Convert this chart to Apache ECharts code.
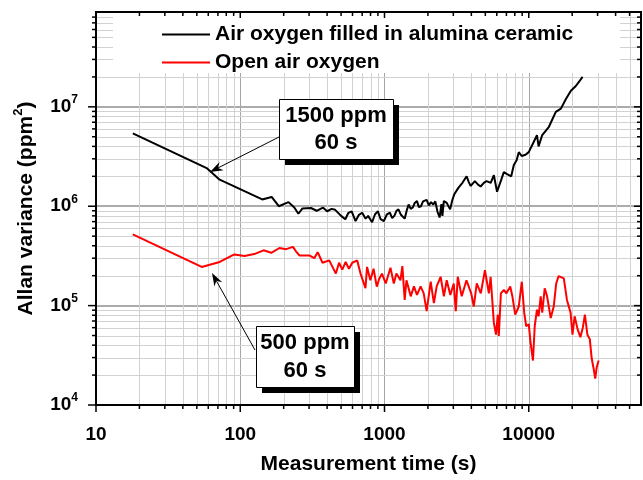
<!DOCTYPE html>
<html>
<head>
<meta charset="utf-8">
<script src="https://cdn.jsdelivr.net/npm/echarts@6/dist/echarts.min.js"></script>
<style>
  html, body { margin: 0; padding: 0; background: #fff; }
  #chart { width: 643px; height: 480px; }
</style>
</head>
<body>
<div id="chart"></div>
<script>
const ceramicTime = [18, 59, 72, 142, 165, 185, 216, 237, 253, 270, 309, 339, 374, 400, 430, 455, 500, 535, 560, 592,
  630, 665, 700, 740, 770, 820, 860, 900, 940, 990, 1040, 1090, 1130, 1170, 1210, 1250, 1300, 1380, 1430, 1470,
  1520, 1570, 1620, 1680, 1730, 1790, 1850, 1900, 1960, 2030, 2100, 2180, 2250, 2330, 2410, 2480, 2520, 2580, 2700, 2850,
  2950, 3040, 3250, 3470, 3710, 3840, 3960, 4230, 4450, 4640, 4880, 5100, 5450, 5730, 6030, 6450, 6720, 7080, 7560, 7880,
  8240, 8530, 8930, 9500, 10000, 10800, 11400, 11700, 12400, 13800, 15400, 16700, 18100, 19600, 21200, 22400, 23600];
const ceramicVar = [5.4e6, 2.4e6, 1.85e6, 1.17e6, 1.24e6, 1.0e6, 1.1e6, 9.7e5, 8.4e5, 9.5e5, 9.6e5, 9.0e5, 9.7e5, 8.9e5, 9.4e5, 9.2e5, 8.0e5, 7.4e5, 8.5e5, 8.9e5,
  7.1e5, 8.2e5, 8.6e5, 7.5e5, 8.0e5, 6.9e5, 8.3e5, 8.9e5, 7.4e5, 7.1e5, 8.3e5, 8.6e5, 7.6e5, 8.0e5, 9.0e5, 9.3e5, 8.2e5, 7.5e5, 9.2e5, 1.04e6,
  9.4e5, 9.7e5, 1.08e6, 1.13e6, 9.8e5, 1.0e6, 1.12e6, 1.07e6, 1.16e6, 1.02e6, 1.1e6, 1.04e6, 1.12e6, 8.8e5, 7.7e5, 1.05e6, 8.0e5, 1.13e6, 1.08e6, 9.3e5,
  1.15e6, 1.31e6, 1.53e6, 1.72e6, 2.0e6, 1.75e6, 1.6e6, 1.79e6, 1.65e6, 1.58e6, 1.72e6, 1.79e6, 1.72e6, 2.05e6, 1.4e6, 1.85e6, 2.2e6, 2.1e6, 2.0e6, 2.6e6,
  2.9e6, 3.5e6, 3.2e6, 3.3e6, 3.5e6, 4.4e6, 5.2e6, 4.0e6, 5.2e6, 6.3e6, 8.9e6, 9.6e6, 1.2e7, 1.45e7, 1.62e7, 1.8e7, 2.0e7];

const openTime = [18, 54, 72, 91, 107, 125, 145, 164, 187, 208, 232, 244, 257, 301, 326, 344, 372, 414, 460, 484,
  510, 538, 567, 598, 647, 682, 738, 757, 798, 840, 884, 918, 960, 1020, 1100, 1160, 1210, 1290, 1330, 1380,
  1420, 1520, 1600, 1680, 1780, 1870, 1960, 2090, 2200, 2300, 2450, 2580, 2700, 2860, 3020, 3120, 3220, 3430, 3700, 3990,
  4160, 4360, 4650, 4970, 5290, 5440, 5730, 5930, 6100, 6200, 6410, 6720, 7000, 7440, 7700, 8060, 8530, 8950, 9300, 9600,
  10000, 10300, 10700, 11000, 11400, 11700, 12100, 12400, 12900, 13400, 14200, 14900, 15500, 16100, 17500, 18400, 19500, 20100, 20800, 21800,
  22800, 23700, 24500, 25500, 26500, 27300, 28200, 28900, 29600, 30500];
const openVar = [5.2e5, 2.45e5, 2.75e5, 3.27e5, 3.15e5, 3.3e5, 3.6e5, 3.4e5, 3.8e5, 3.7e5, 3.9e5, 3.5e5, 3.2e5, 3.2e5, 3.0e5, 3.45e5, 2.7e5, 2.85e5, 2.1e5, 2.7e5,
  2.3e5, 2.75e5, 2.35e5, 2.7e5, 2.85e5, 2.1e5, 1.5e5, 2.45e5, 1.8e5, 2.35e5, 1.55e5, 1.85e5, 2.1e5, 1.67e5, 2.4e5, 1.67e5, 2.1e5, 1.8e5, 2.5e5, 1.14e5,
  1.8e5, 1.24e5, 1.56e5, 1.28e5, 1.56e5, 1.33e5, 8.8e4, 1.74e5, 1.06e5, 1.56e5, 1.95e5, 1.24e5, 1.8e5, 1.28e5, 1.67e5, 8.8e4, 1.95e5, 1.24e5, 1.8e5, 1.33e5,
  9.8e4, 1.67e5, 1.33e5, 2.27e5, 1.33e5, 1.95e5, 6.7e4, 5.1e4, 8.1e4, 4.95e4, 1.33e5, 1.44e5, 1.33e5, 1.56e5, 1.24e5, 8.1e4, 9.8e4, 1.74e5, 8.5e4, 6.2e4,
  6.5e4, 4.2e4, 2.8e4, 6.2e4, 9.1e4, 7.8e4, 1.24e5, 8.5e4, 1.49e5, 1.24e5, 7.5e4, 9.8e4, 1.67e5, 1.98e5, 1.88e5, 1.14e5, 8.5e4, 5.1e4, 7.8e4, 5.8e4,
  4.8e4, 6.0e4, 8.1e4, 5.1e4, 4.6e4, 2.95e4, 2.3e4, 1.84e4, 2.4e4, 2.8e4];

const seriesNames = ['Air oxygen filled in alumina ceramic', 'Open air oxygen'];
const xRange = [10, 60000];
const yRange = [1e4, 9e7];
const xMajor = [10, 100, 1000, 10000];
const yMajor = [1e4, 1e5, 1e6, 1e7];

const FONT = '"Liberation Sans", Arial, sans-serif';

function minorsOf(majors, max) {
  const out = [];
  majors.forEach(d => {
    for (let m = 2; m <= 9; m++) {
      if (d * m < max) out.push(d * m);
    }
  });
  return out;
}
const xMinor = minorsOf(xMajor, xRange[1]);
const yMinor = minorsOf(yMajor, yRange[1]);

const crisp = v => Math.round(v) + 0.5;

// light minor grid lines
function renderMinorGrid(params, api) {
  const cs = params.coordSys;
  const top = cs.y, bottom = cs.y + cs.height, left = cs.x, right = cs.x + cs.width;
  const lines = [];
  xMinor.forEach(v => {
    const x = crisp(api.coord([v, yRange[0]])[0]);
    lines.push({ type: 'line', shape: { x1: x, y1: top, x2: x, y2: bottom }, style: { stroke: '#d2d2d2', lineWidth: 1 } });
  });
  yMinor.forEach(v => {
    const y = crisp(api.coord([xRange[0], v])[1]);
    lines.push({ type: 'line', shape: { x1: left, y1: y, x2: right, y2: y }, style: { stroke: '#d2d2d2', lineWidth: 1 } });
  });
  return { type: 'group', children: lines };
}

// frame + ticks: out on bottom/left, in on top/right
function renderFrame(params, api) {
  const cs = params.coordSys;
  const top = cs.y, bottom = cs.y + cs.height, left = cs.x, right = cs.x + cs.width;
  const els = [];
  const seg = (x1, y1, x2, y2) => els.push({ type: 'line', shape: { x1, y1, x2, y2 }, style: { stroke: '#000', lineWidth: 1.5 } });
  xMajor.forEach(v => {
    const x = api.coord([v, yRange[0]])[0];
    seg(x, bottom, x, bottom + 7);
    seg(x, top, x, top + 6);
  });
  xMinor.forEach(v => {
    const x = api.coord([v, yRange[0]])[0];
    seg(x, bottom, x, bottom + 4);
    seg(x, top, x, top + 4);
  });
  yMajor.forEach(v => {
    const y = api.coord([xRange[0], v])[1];
    seg(left - 8, y, left, y);
    seg(right - 7, y, right, y);
  });
  yMinor.forEach(v => {
    const y = api.coord([xRange[0], v])[1];
    seg(left - 4, y, left, y);
    seg(right - 4, y, right, y);
  });
  els.push({ type: 'rect', shape: { x: left, y: top, width: right - left, height: bottom - top },
    style: { fill: 'none', stroke: '#000', lineWidth: 2 } });
  return { type: 'group', children: els };
}

function arrow(from, to) {
  const dx = to[0] - from[0], dy = to[1] - from[1];
  const len = Math.sqrt(dx * dx + dy * dy);
  const ux = dx / len, uy = dy / len, nx = -uy, ny = ux;
  const hl = 13, hw = 4.5, notch = 9;
  return [
    { type: 'line', z: 20, shape: { x1: from[0], y1: from[1], x2: to[0] - ux * notch, y2: to[1] - uy * notch },
      style: { stroke: '#000', lineWidth: 1 } },
    { type: 'polygon', z: 20, shape: { points: [
        to,
        [to[0] - ux * hl + nx * hw, to[1] - uy * hl + ny * hw],
        [to[0] - ux * notch, to[1] - uy * notch],
        [to[0] - ux * hl - nx * hw, to[1] - uy * hl - ny * hw]
      ] }, style: { fill: '#000' } }
  ];
}

function noteBox(x, y, w, h, text, lh) {
  return [
    { type: 'rect', z: 20, shape: { x: x + 6, y: y + 6, width: w, height: h }, style: { fill: '#000' } },
    { type: 'rect', z: 21, shape: { x: x + 0.5, y: y + 0.5, width: w, height: h }, style: { fill: '#fff', stroke: '#000', lineWidth: 1 } },
    { type: 'text', z: 22, x: x + w / 2, y: y + h / 2, style: {
        text: text, fill: '#000', font: 'bold 22px ' + FONT, align: 'center', verticalAlign: 'middle', lineHeight: lh } }
  ];
}

const chart = echarts.init(document.getElementById('chart'), null, { renderer: 'canvas' });

const axisLabelFont = { fontFamily: FONT, fontWeight: 'bold', color: '#000' };

chart.setOption({
  animation: false,
  backgroundColor: '#fff',
  grid: { left: 96, right: 2, top: 12, bottom: 70 },
  legend: {
    data: seriesNames,
    orient: 'vertical',
    left: 157,
    top: 19,
    itemWidth: 48,
    itemHeight: 20,
    itemGap: 7,
    selectedMode: false,
    icon: 'path://M0,0H48V2H0Z',
    symbolKeepAspect: true,
    textStyle: { fontFamily: FONT, fontWeight: 'bold', fontSize: 21, color: '#000' }
  },
  xAxis: {
    type: 'log',
    logBase: 10,
    min: xRange[0],
    max: xRange[1],
    name: 'Measurement time (s)',
    nameLocation: 'middle',
    nameGap: 49,
    nameTextStyle: { fontFamily: FONT, fontWeight: 'bold', fontSize: 21, color: '#000' },
    axisLine: { show: false },
    axisTick: { show: false },
    axisLabel: Object.assign({ fontSize: 19, margin: 20, showMaxLabel: false,
      formatter: v => String(Math.round(v)) }, axisLabelFont),
    splitLine: { show: true, lineStyle: { color: '#a6a6a6', width: 1 } }
  },
  yAxis: {
    type: 'log',
    logBase: 10,
    min: yRange[0],
    max: yRange[1],
    name: 'Allan variance (ppm{sup|2})',
    nameLocation: 'middle',
    nameGap: 43,
    nameRotate: 90,
    nameTextStyle: { fontFamily: FONT, fontWeight: 'bold', fontSize: 21, color: '#000', lineHeight: 27,
      rich: { sup: { fontFamily: FONT, fontWeight: 'bold', fontSize: 13, lineHeight: 13, verticalAlign: 'top' } } },
    axisLine: { show: false },
    axisTick: { show: false },
    axisLabel: {
      margin: 18,
      showMaxLabel: false,
      formatter: v => '{b|10}{s|' + Math.round(Math.log10(v)) + '}',
      rich: {
        b: Object.assign({ fontSize: 19, lineHeight: 26 }, axisLabelFont),
        s: Object.assign({ fontSize: 12, lineHeight: 12, verticalAlign: 'top' }, axisLabelFont)
      }
    },
    splitLine: { show: true, lineStyle: { color: '#ababab', width: 2 } }
  },
  graphic: [
    { type: 'rect', z: 3, shape: { x: 113, y: 14, width: 507, height: 59 }, style: { fill: '#fff' } }
  ].concat(
    arrow([279, 137], [210, 172]),
    noteBox(279, 99, 114, 60, '1500 ppm\n60 s', 27),
    arrow([255, 350], [212, 273]),
    noteBox(256, 326, 98, 61, '500 ppm\n60 s', 28)
  ),
  series: [
    { type: 'custom', name: 'minorGrid', z: 1, silent: true, renderItem: renderMinorGrid, data: [[xRange[0], yRange[0]]] },
    {
      name: seriesNames[0],
      type: 'line',
      z: 5,
      symbol: 'none',
      lineStyle: { color: '#000', width: 2 },
      itemStyle: { color: '#000' },
      data: ceramicTime.map((t, i) => [t, ceramicVar[i]])
    },
    {
      name: seriesNames[1],
      type: 'line',
      z: 5,
      symbol: 'none',
      lineStyle: { color: '#ff0000', width: 2 },
      itemStyle: { color: '#ff0000' },
      data: openTime.map((t, i) => [t, openVar[i]])
    },
    { type: 'custom', name: 'frame', z: 10, silent: true, renderItem: renderFrame, data: [[xRange[0], yRange[0]]] }
  ]
});
</script>
</body>
</html>
